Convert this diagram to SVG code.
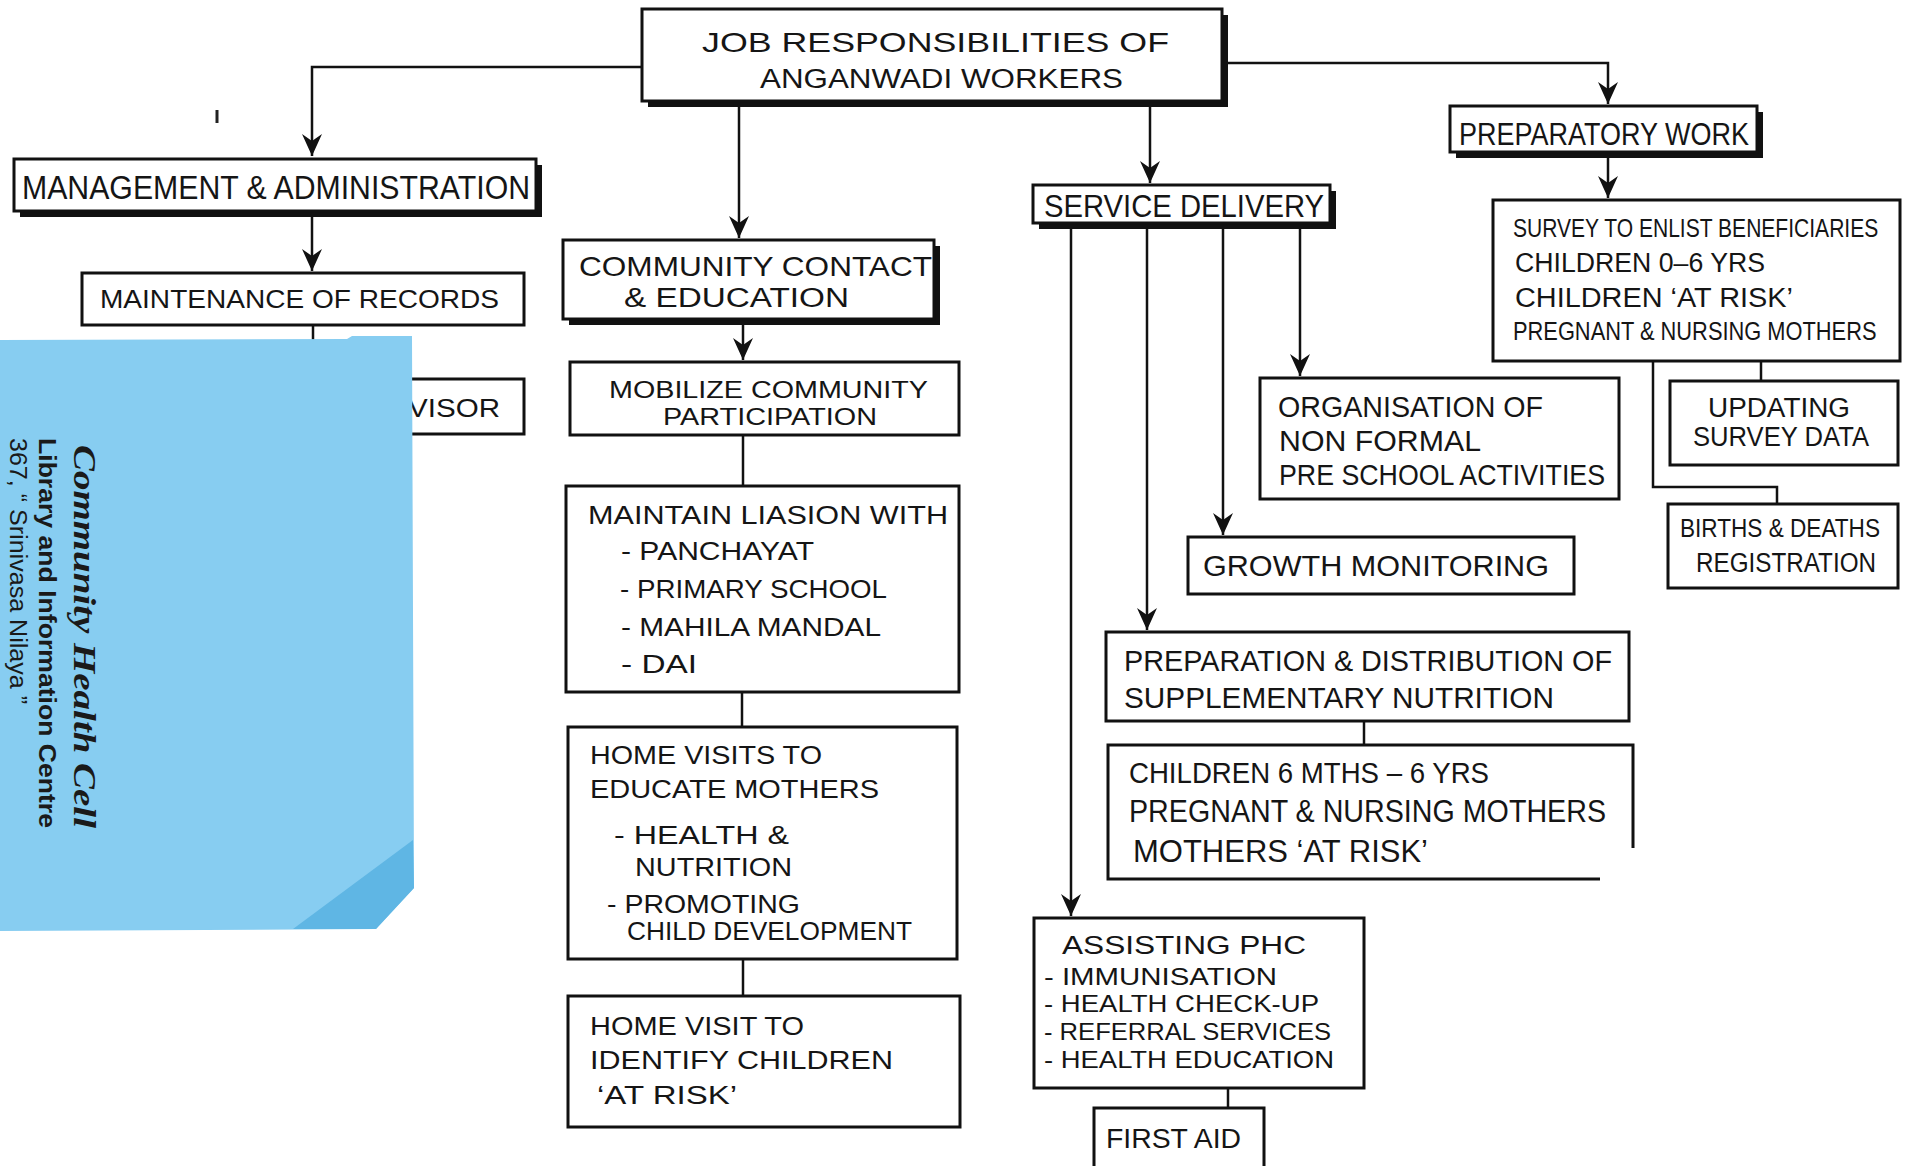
<svg xmlns="http://www.w3.org/2000/svg" width="1910" height="1166" viewBox="0 0 1910 1166">
<style>
  .bg { fill: #ffffff; }
  .box { fill: #ffffff; stroke: #111111; stroke-width: 3; }
  .shadow { fill: #111111; }
  .t { font-family: "Liberation Sans", Arial, sans-serif; fill: #151515; }
  .line { fill: none; stroke: #111111; stroke-width: 2.5; }
  .paper { fill: #87CDF1; }
  .fold { fill: #5FB6E4; }
  .ptxt { fill: #1a1a1a; }
</style>
<defs>
  <marker id="arr" markerUnits="userSpaceOnUse" markerWidth="30" markerHeight="30" viewBox="-25 -15 30 30" refX="0" refY="0" orient="auto">
    <path d="M0,0 L-22,-10 L-15,0 L-22,10 Z" fill="#111111"/>
  </marker>
</defs>
<rect class="bg" x="0" y="0" width="1910" height="1166"/>

<!-- connectors -->
<g id="connectors">
  <path class="line" d="M642,67 H312 V156" marker-end="url(#arr)"/>
  <path class="line" d="M739,107 V238" marker-end="url(#arr)"/>
  <path class="line" d="M1150,107 V183" marker-end="url(#arr)"/>
  <path class="line" d="M1228,63 H1608 V104" marker-end="url(#arr)"/>
  <path class="line" d="M312,217 V271" marker-end="url(#arr)"/>
  <path class="line" d="M313,325 V379"/>
  <path class="line" d="M743,325 V360" marker-end="url(#arr)"/>
  <path class="line" d="M743,435 V486"/>
  <path class="line" d="M742,692 V727"/>
  <path class="line" d="M743,959 V996"/>
  <path class="line" d="M1071,229 V916" marker-end="url(#arr)"/>
  <path class="line" d="M1147,229 V630" marker-end="url(#arr)"/>
  <path class="line" d="M1223,229 V535" marker-end="url(#arr)"/>
  <path class="line" d="M1300,229 V376" marker-end="url(#arr)"/>
  <path class="line" d="M1608,158 V198" marker-end="url(#arr)"/>
  <path class="line" d="M1761,361 V381"/>
  <path class="line" d="M1653,361 V487 H1777 V504"/>
  <path class="line" d="M1364,721 V745"/>
  <path class="line" d="M1228,1088 V1108"/>
</g>

<!-- top node -->
<g id="node-top">
  <rect class="shadow" x="648" y="15" width="580" height="92"/>
  <rect class="box" x="642" y="9" width="580" height="92"/>
  <text class="t" x="702" y="52" font-size="28" textLength="467" lengthAdjust="spacingAndGlyphs">JOB RESPONSIBILITIES OF</text>
  <text class="t" x="760" y="88" font-size="27" textLength="363" lengthAdjust="spacingAndGlyphs">ANGANWADI WORKERS</text>
</g>

<g id="node-management">
  <rect class="shadow" x="20" y="165" width="522" height="52"/>
  <rect class="box" x="14" y="159" width="522" height="52"/>
  <text class="t" x="22" y="199" font-size="34" textLength="508" lengthAdjust="spacingAndGlyphs">MANAGEMENT &amp; ADMINISTRATION</text>
</g>

<g id="node-records">
  <rect class="box" x="82" y="273" width="442" height="52"/>
  <text class="t" x="100" y="308" font-size="25" textLength="399" lengthAdjust="spacingAndGlyphs">MAINTENANCE OF RECORDS</text>
</g>

<g id="node-supervisor">
  <rect class="box" x="100" y="379" width="424" height="55"/>
  <text class="t" x="408" y="417" font-size="26" textLength="92" lengthAdjust="spacingAndGlyphs">VISOR</text>
</g>

<g id="node-community">
  <rect class="shadow" x="569" y="246" width="371" height="79"/>
  <rect class="box" x="563" y="240" width="371" height="79"/>
  <text class="t" x="579" y="276" font-size="28" textLength="353" lengthAdjust="spacingAndGlyphs">COMMUNITY CONTACT</text>
  <text class="t" x="624" y="307" font-size="27" textLength="225" lengthAdjust="spacingAndGlyphs">&amp; EDUCATION</text>
</g>

<g id="node-mobilize">
  <rect class="box" x="570" y="362" width="389" height="73"/>
  <text class="t" x="609" y="398" font-size="24" textLength="319" lengthAdjust="spacingAndGlyphs">MOBILIZE COMMUNITY</text>
  <text class="t" x="663" y="425" font-size="24" textLength="214" lengthAdjust="spacingAndGlyphs">PARTICIPATION</text>
</g>

<g id="node-liasion">
  <rect class="box" x="566" y="486" width="393" height="206"/>
  <text class="t" x="588" y="524" font-size="25" textLength="360" lengthAdjust="spacingAndGlyphs">MAINTAIN  LIASION  WITH</text>
  <text class="t" x="621" y="560" font-size="25" textLength="193" lengthAdjust="spacingAndGlyphs">- PANCHAYAT</text>
  <text class="t" x="620" y="598" font-size="25" textLength="267" lengthAdjust="spacingAndGlyphs">- PRIMARY SCHOOL</text>
  <text class="t" x="621" y="636" font-size="25" textLength="260" lengthAdjust="spacingAndGlyphs">- MAHILA MANDAL</text>
  <text class="t" x="621" y="673" font-size="25" textLength="76" lengthAdjust="spacingAndGlyphs">- DAI</text>
</g>

<g id="node-homevisits">
  <rect class="box" x="568" y="727" width="389" height="232"/>
  <text class="t" x="590" y="764" font-size="25" textLength="232" lengthAdjust="spacingAndGlyphs">HOME VISITS TO</text>
  <text class="t" x="590" y="798" font-size="25" textLength="289" lengthAdjust="spacingAndGlyphs">EDUCATE MOTHERS</text>
  <text class="t" x="614" y="844" font-size="25" textLength="175" lengthAdjust="spacingAndGlyphs">- HEALTH  &amp;</text>
  <text class="t" x="635" y="876" font-size="25" textLength="157" lengthAdjust="spacingAndGlyphs">NUTRITION</text>
  <text class="t" x="607" y="913" font-size="25" textLength="193" lengthAdjust="spacingAndGlyphs">- PROMOTING</text>
  <text class="t" x="627" y="940" font-size="25" textLength="285" lengthAdjust="spacingAndGlyphs">CHILD DEVELOPMENT</text>
</g>

<g id="node-atrisk">
  <rect class="box" x="568" y="996" width="392" height="131"/>
  <text class="t" x="590" y="1035" font-size="26" textLength="214" lengthAdjust="spacingAndGlyphs">HOME VISIT TO</text>
  <text class="t" x="590" y="1069" font-size="26" textLength="303" lengthAdjust="spacingAndGlyphs">IDENTIFY CHILDREN</text>
  <text class="t" x="597" y="1104" font-size="25" textLength="140" lengthAdjust="spacingAndGlyphs">‘AT RISK’</text>
</g>

<g id="node-service">
  <rect class="shadow" x="1039" y="191" width="297" height="38"/>
  <rect class="box" x="1033" y="185" width="297" height="38"/>
  <text class="t" x="1044" y="217" font-size="31" textLength="280" lengthAdjust="spacingAndGlyphs">SERVICE DELIVERY</text>
</g>

<g id="node-preschool">
  <rect class="box" x="1260" y="378" width="359" height="121"/>
  <text class="t" x="1278" y="417" font-size="30" textLength="265" lengthAdjust="spacingAndGlyphs">ORGANISATION OF</text>
  <text class="t" x="1279" y="451" font-size="30" textLength="202" lengthAdjust="spacingAndGlyphs">NON FORMAL</text>
  <text class="t" x="1279" y="485" font-size="30" textLength="326" lengthAdjust="spacingAndGlyphs">PRE SCHOOL ACTIVITIES</text>
</g>

<g id="node-growth">
  <rect class="box" x="1188" y="537" width="386" height="57"/>
  <text class="t" x="1203" y="576" font-size="30" textLength="346" lengthAdjust="spacingAndGlyphs">GROWTH  MONITORING</text>
</g>

<g id="node-nutrition">
  <rect class="box" x="1106" y="632" width="523" height="89"/>
  <text class="t" x="1124" y="671" font-size="29" textLength="488" lengthAdjust="spacingAndGlyphs">PREPARATION &amp; DISTRIBUTION OF</text>
  <text class="t" x="1124" y="708" font-size="29" textLength="430" lengthAdjust="spacingAndGlyphs">SUPPLEMENTARY  NUTRITION</text>
</g>

<g id="node-beneficiaries">
  <path class="box" d="M1633,848 V745 H1108 V879 H1600"/>
  <text class="t" x="1129" y="783" font-size="29" textLength="360" lengthAdjust="spacingAndGlyphs">CHILDREN 6 MTHS – 6 YRS</text>
  <text class="t" x="1129" y="822" font-size="31" textLength="477" lengthAdjust="spacingAndGlyphs">PREGNANT &amp; NURSING MOTHERS</text>
  <text class="t" x="1133" y="862" font-size="31" textLength="295" lengthAdjust="spacingAndGlyphs">MOTHERS ‘AT RISK’</text>
</g>

<g id="node-phc">
  <rect class="box" x="1034" y="918" width="330" height="170"/>
  <text class="t" x="1062" y="954" font-size="26" textLength="244" lengthAdjust="spacingAndGlyphs">ASSISTING  PHC</text>
  <text class="t" x="1044" y="985" font-size="24" textLength="233" lengthAdjust="spacingAndGlyphs">- IMMUNISATION</text>
  <text class="t" x="1044" y="1012" font-size="24" textLength="275" lengthAdjust="spacingAndGlyphs">- HEALTH CHECK-UP</text>
  <text class="t" x="1044" y="1040" font-size="24" textLength="287" lengthAdjust="spacingAndGlyphs">- REFERRAL SERVICES</text>
  <text class="t" x="1044" y="1068" font-size="24" textLength="290" lengthAdjust="spacingAndGlyphs">- HEALTH EDUCATION</text>
</g>

<g id="node-firstaid">
  <rect class="box" x="1094" y="1108" width="170" height="70"/>
  <text class="t" x="1106" y="1148" font-size="27" textLength="135" lengthAdjust="spacingAndGlyphs">FIRST AID</text>
</g>

<g id="node-preparatory">
  <rect class="shadow" x="1456" y="112" width="307" height="46"/>
  <rect class="box" x="1450" y="106" width="307" height="46"/>
  <text class="t" x="1459" y="145" font-size="31" textLength="290" lengthAdjust="spacingAndGlyphs">PREPARATORY WORK</text>
</g>

<g id="node-survey">
  <rect class="box" x="1493" y="200" width="407" height="161"/>
  <text class="t" transform="translate(1513,237) scale(0.81,1)" font-size="26">SURVEY TO ENLIST BENEFICIARIES</text>
  <text class="t" x="1515" y="272" font-size="27" textLength="250" lengthAdjust="spacingAndGlyphs">CHILDREN 0–6 YRS</text>
  <text class="t" x="1515" y="307" font-size="27" textLength="278" lengthAdjust="spacingAndGlyphs">CHILDREN ‘AT RISK’</text>
  <text class="t" transform="translate(1513,340) scale(0.84,1)" font-size="26">PREGNANT &amp; NURSING MOTHERS</text>
</g>

<g id="node-updating">
  <rect class="box" x="1670" y="381" width="228" height="84"/>
  <text class="t" x="1708" y="417" font-size="27" textLength="142" lengthAdjust="spacingAndGlyphs">UPDATING</text>
  <text class="t" x="1693" y="446" font-size="27" textLength="176" lengthAdjust="spacingAndGlyphs">SURVEY DATA</text>
</g>

<g id="node-births">
  <rect class="box" x="1668" y="504" width="230" height="84"/>
  <text class="t" x="1680" y="537" font-size="26" textLength="200" lengthAdjust="spacingAndGlyphs">BIRTHS &amp; DEATHS</text>
  <text class="t" x="1696" y="572" font-size="27" textLength="180" lengthAdjust="spacingAndGlyphs">REGISTRATION</text>
</g>

<!-- stray pen mark -->
<path d="M217,110 V123" stroke="#222" stroke-width="3"/>

<!-- blue library label pasted over the chart -->
<g id="library-label">
  <path class="paper" d="M0,340 L347,339 L352,336 L412,336 L414,888 L376,929 L0,931 Z"/>
  <path class="fold" d="M413,840 L293,929 L376,929 L414,888 Z"/>
  <text class="ptxt" transform="translate(74,445) rotate(90)" font-family="Liberation Serif, serif" font-weight="bold" font-style="italic" font-size="32" textLength="383" lengthAdjust="spacingAndGlyphs">Community Health Cell</text>
  <text class="ptxt" transform="translate(39,438) rotate(90)" font-family="Liberation Sans, Arial, sans-serif" font-weight="bold" font-size="24" textLength="390" lengthAdjust="spacingAndGlyphs">Library and Information Centre</text>
  <text class="ptxt" transform="translate(10,438) rotate(90)" font-family="Liberation Sans, Arial, sans-serif" font-size="23" textLength="266" lengthAdjust="spacingAndGlyphs">367, “ Srinivasa Nilaya ”</text>
</g>
</svg>
